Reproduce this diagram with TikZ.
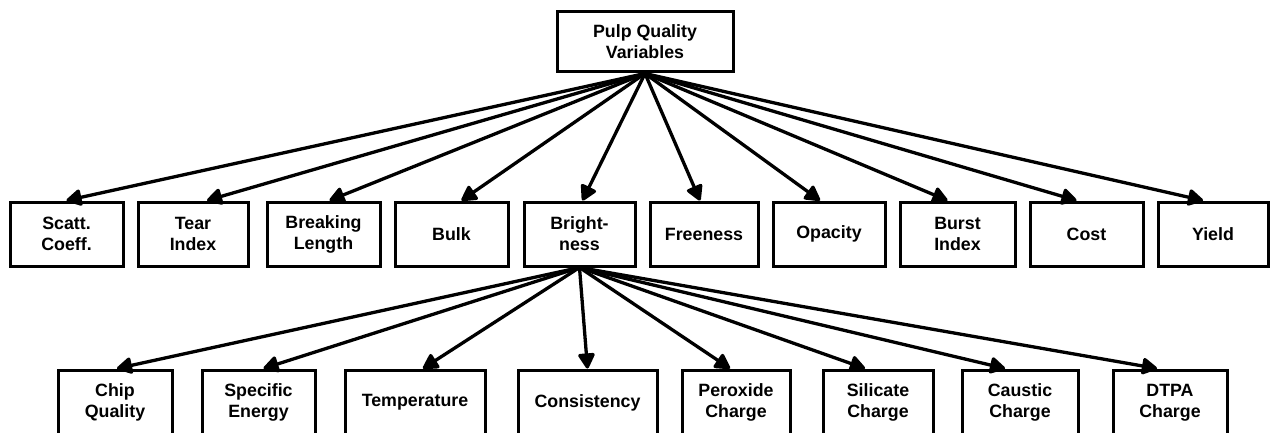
\documentclass[tikz,border=0pt]{standalone}
\usepackage{fontspec}
\setmainfont{Liberation Sans}
\usetikzlibrary{arrows.meta,calc}
\begin{document}
\begin{tikzpicture}[x=1pt,y=-1pt,
  box/.style={draw,line width=3pt,inner sep=0pt,align=center,
    font=\fontsize{17.8}{21}\selectfont\bfseries},
  midbox/.style={box,minimum height=64pt},
  lowbox/.style={box,minimum height=65pt},
  link/.style={line width=3.3pt,-{Triangle[length=17pt,width=18pt,round]}}]
\useasboundingbox (0,0) rectangle (1272,433);
\clip (0,0) rectangle (1272,433);

% root
\node[box,minimum width=176pt,minimum height=60pt] (root) at (645,42) {Pulp Quality\\Variables};

% quality variables
\node[midbox,minimum width=113pt] (scatt) at (66.5,234) {Scatt.\\Coeff.};
\node[midbox,minimum width=110pt] (tear) at (193,234) {Tear\\Index};
\node[midbox,minimum width=113pt] (break) at (323.5,234) {Breaking\\Length};
\node[midbox,minimum width=113pt] (bulk) at (451.5,234) {Bulk};
\node[midbox,minimum width=111pt] (bright) at (579.5,234) {Bright-\\ness};
\node[midbox,minimum width=108pt] (free) at (704,234) {Freeness};
\node[midbox,minimum width=112pt] (opac) at (829,234) {Opacity};
\node[midbox,minimum width=115pt] (burst) at (957.5,234) {Burst\\Index};
\node[midbox,minimum width=113pt] (cost) at (1086.5,234) {Cost};
\node[midbox,minimum width=110pt] (yield) at (1213,234) {Yield};

% brightness factors
\node[lowbox,minimum width=114pt] (chip) at (115,402.5) {Chip\\Quality};
\node[lowbox,minimum width=113pt] (spec) at (258.5,402.5) {Specific\\Energy};
\node[lowbox,minimum width=140pt] (temp) at (415,402.5) {Temperature};
\node[lowbox,minimum width=139pt] (cons) at (587.5,402.5) {Consistency};
\node[lowbox,minimum width=108pt] (perox) at (736,402.5) {Peroxide\\Charge};
\node[lowbox,minimum width=110pt] (silic) at (878,402.5) {Silicate\\Charge};
\node[lowbox,minimum width=116pt] (caust) at (1020,402.5) {Caustic\\Charge};
\node[lowbox,minimum width=114pt] (dtpa) at (1170,402.5) {DTPA\\Charge};

% connectors from the root
\foreach \n/\dx in {scatt/0,tear/14,break/6,bulk/10,bright/3,free/-4,opac/-9,burst/-10,cost/-10,yield/-10}
  \draw[link] (root.south) -- ($(\n.north)+(\dx,0)$);

% connectors from brightness
\foreach \n/\dx in {chip/2,spec/5,temp/8,cons/0,perox/-6,silic/-13,caust/-15,dtpa/-13}
  \draw[link] (bright.south) -- ($(\n.north)+(\dx,0)$);
\end{tikzpicture}
\end{document}
